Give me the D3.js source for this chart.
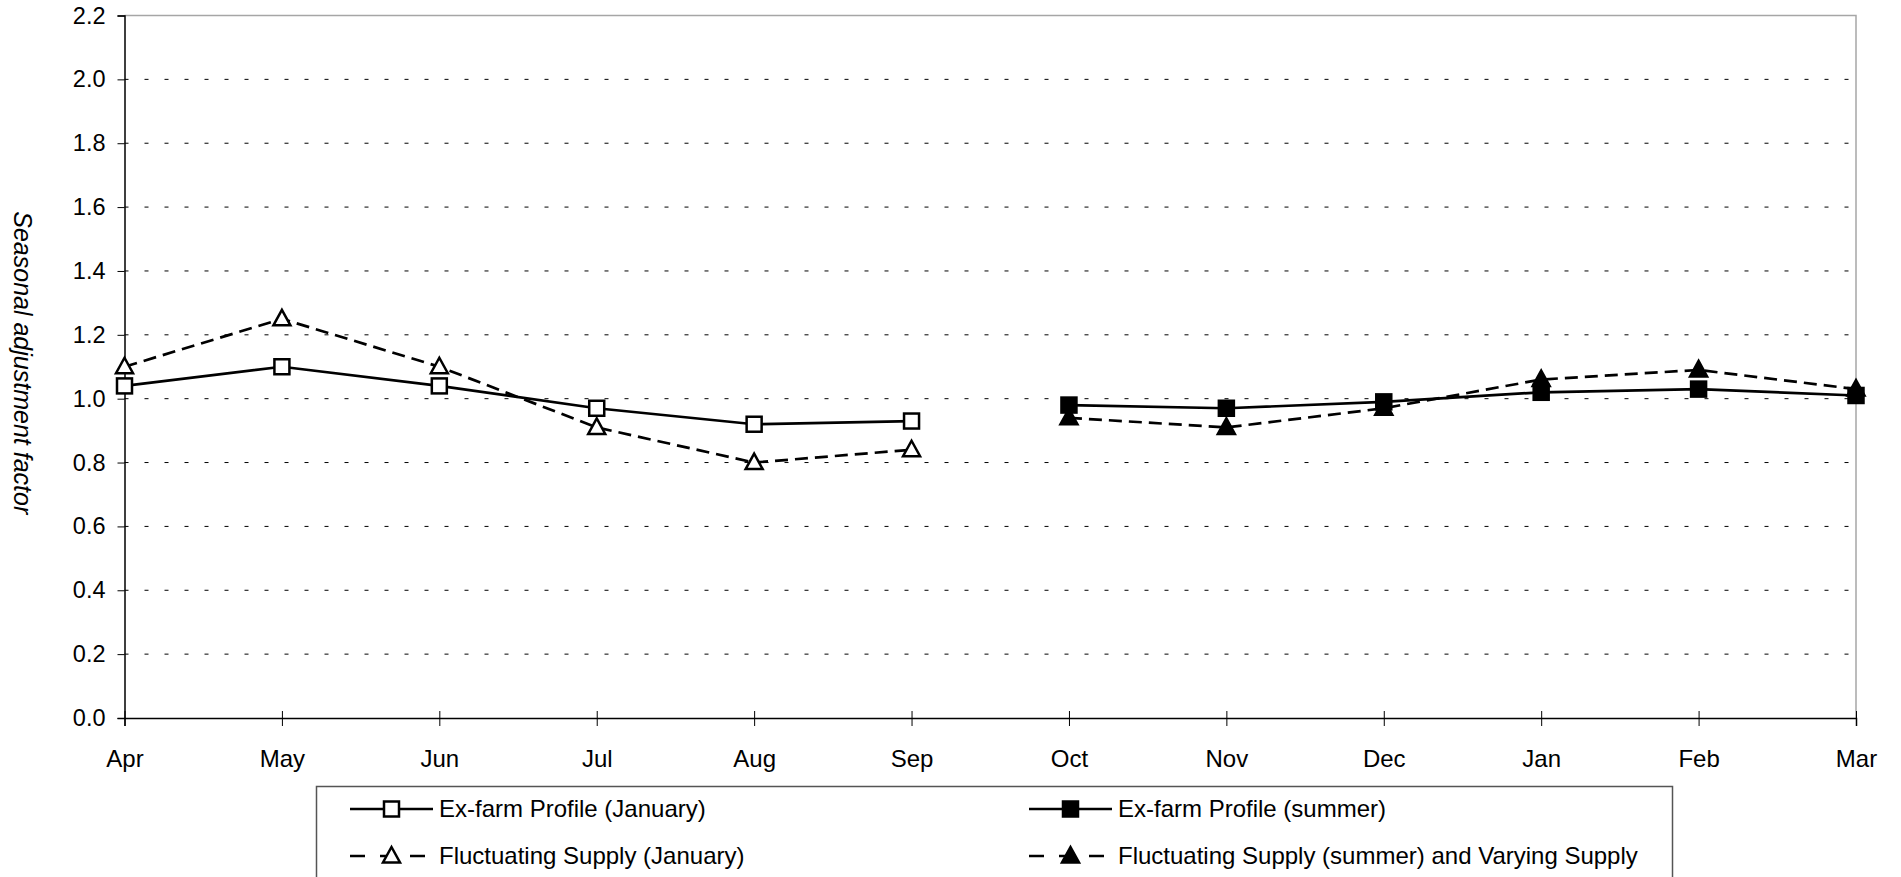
<!DOCTYPE html>
<html>
<head>
<meta charset="utf-8">
<script src="https://cdn.jsdelivr.net/npm/d3@7"></script>
<style>
  body { margin: 0; background: #fff; overflow: hidden; }
  text { font-family: "Liberation Sans", Arial, sans-serif; fill: #000; }
</style>
</head>
<body>
<script>
// data
var months = ["Apr", "May", "Jun", "Jul", "Aug", "Sep", "Oct", "Nov", "Dec", "Jan", "Feb", "Mar"];
var janMonths = ["Apr", "May", "Jun", "Jul", "Aug", "Sep"];
var summerMonths = ["Oct", "Nov", "Dec", "Jan", "Feb", "Mar"];
var exFarmJan = [1.04, 1.10, 1.04, 0.97, 0.92, 0.93];
var fluctJan = [1.10, 1.25, 1.10, 0.91, 0.80, 0.84];
var exFarmSummer = [0.98, 0.97, 0.99, 1.02, 1.03, 1.01];
var fluctSummer = [0.94, 0.91, 0.97, 1.06, 1.09, 1.03];
var yTicks = [0, 0.2, 0.4, 0.6, 0.8, 1.0, 1.2, 1.4, 1.6, 1.8, 2.0, 2.2];
var seriesNames = ["Ex-farm Profile (January)", "Ex-farm Profile (summer)",
                   "Fluctuating Supply (January)", "Fluctuating Supply (summer) and Varying Supply"];

// set the dimensions and margins of the graph
var margin = { top: 15.5, right: 45, bottom: 159, left: 124.5 },
    width = 1901 - margin.left - margin.right,
    height = 877 - margin.top - margin.bottom;

var svg = d3.select("body").append("svg")
    .attr("width", 1901)
    .attr("height", 877);

var g = svg.append("g")
    .attr("transform", "translate(" + margin.left + "," + margin.top + ")");

var xScale = d3.scalePoint()
    .domain(months)
    .range([0, width]);
var yScale = d3.scaleLinear()
    .domain([0, 2.2])
    .range([height, 0]);

// dotted gridlines
g.selectAll(".grid")
    .data(yTicks.filter(function (d) { return d > 0; }))
    .enter().append("line")
    .attr("x1", 0).attr("x2", width)
    .attr("y1", function (d) { return yScale(d); })
    .attr("y2", function (d) { return yScale(d); })
    .attr("stroke", "#000")
    .attr("stroke-width", 1)
    .attr("stroke-dasharray", "4,16");

// grey top and right border
g.append("path")
    .attr("d", "M0," + yScale(2.2) + "H" + width + "V" + height)
    .attr("fill", "none")
    .attr("stroke", "#a6a6a6")
    .attr("stroke-width", 1.5);

// y axis
var yAxis = g.append("g")
    .call(d3.axisLeft(yScale).tickValues(yTicks).tickFormat(d3.format(".1f")).tickSize(7).tickPadding(12));
yAxis.select(".domain").attr("stroke", "#000").attr("stroke-width", 1.5);
yAxis.selectAll("text").style("font-size", "23.5px");

// x axis
var xAxis = g.append("g")
    .attr("transform", "translate(0," + height + ")")
    .call(d3.axisBottom(xScale).tickSize(8).tickPadding(24));
xAxis.select(".domain").attr("stroke", "#000").attr("stroke-width", 1.5);
xAxis.selectAll(".tick line").attr("y1", -7);
xAxis.selectAll("text").style("font-size", "24px");

// y axis title
svg.append("text")
    .attr("transform", "translate(23," + (margin.top + height / 2 - 4) + ") rotate(90)")
    .attr("text-anchor", "middle")
    .attr("dy", "0.35em")
    .style("font-size", "25px")
    .style("font-style", "italic")
    .text("Seasonal adjustment factor");

var line = d3.line()
    .x(function (d) { return xScale(d.m); })
    .y(function (d) { return yScale(d.v); });

function pairs(ms, vs) {
    return ms.map(function (m, i) { return { m: m, v: vs[i] }; });
}

var series = [
    { data: pairs(janMonths, exFarmJan), dash: null, shape: "square", fill: "#fff" },
    { data: pairs(summerMonths, exFarmSummer), dash: null, shape: "square", fill: "#000" },
    { data: pairs(janMonths, fluctJan), dash: "13,7", shape: "triangle", fill: "#fff" },
    { data: pairs(summerMonths, fluctSummer), dash: "13,7", shape: "triangle", fill: "#000" }
];

var triPath = "M0,-9L8.5,6.5L-8.5,6.5Z";

function addMarker(sel, s) {
    if (s.shape == "square") {
        sel.append("rect")
            .attr("x", -7.5).attr("y", -7.5)
            .attr("width", 15).attr("height", 15)
            .attr("fill", s.fill)
            .attr("stroke", "#000")
            .attr("stroke-width", 2.5);
    } else {
        sel.append("path")
            .attr("d", triPath)
            .attr("fill", s.fill)
            .attr("stroke", "#000")
            .attr("stroke-width", 2.5)
            .attr("stroke-linejoin", "miter");
    }
}

// lines first, then markers on top
series.forEach(function (s) {
    g.append("path")
        .datum(s.data)
        .attr("d", line)
        .attr("fill", "none")
        .attr("stroke", "#000")
        .attr("stroke-width", 2.7)
        .attr("stroke-dasharray", s.dash);
});
series.forEach(function (s) {
    g.selectAll(null)
        .data(s.data)
        .enter().append("g")
        .attr("transform", function (d) { return "translate(" + xScale(d.m) + "," + yScale(d.v) + ")"; })
        .each(function () { addMarker(d3.select(this), s); });
});

// legend
var legend = svg.append("g");
legend.append("rect")
    .attr("x", 316.5).attr("y", 786.5)
    .attr("width", 1356).attr("height", 120)
    .attr("fill", "#fff")
    .attr("stroke", "#555")
    .attr("stroke-width", 1.5);

var legendPos = [
    { x: 350, y: 809 }, { x: 1029, y: 809 },
    { x: 350, y: 856 }, { x: 1029, y: 856 }
];

series.forEach(function (s, i) {
    var p = legendPos[i];
    var item = legend.append("g").attr("transform", "translate(" + p.x + "," + p.y + ")");
    item.append("line")
        .attr("x1", 0).attr("x2", 83)
        .attr("stroke", "#000")
        .attr("stroke-width", 2.7)
        .attr("stroke-dasharray", s.dash ? "15,15" : null);
    var mk = item.append("g").attr("transform", "translate(41.5,0)");
    addMarker(mk, s);
    item.append("text")
        .attr("x", 89)
        .attr("dy", "0.35em")
        .style("font-size", "24px")
        .text(seriesNames[i]);
});
</script>
</body>
</html>
